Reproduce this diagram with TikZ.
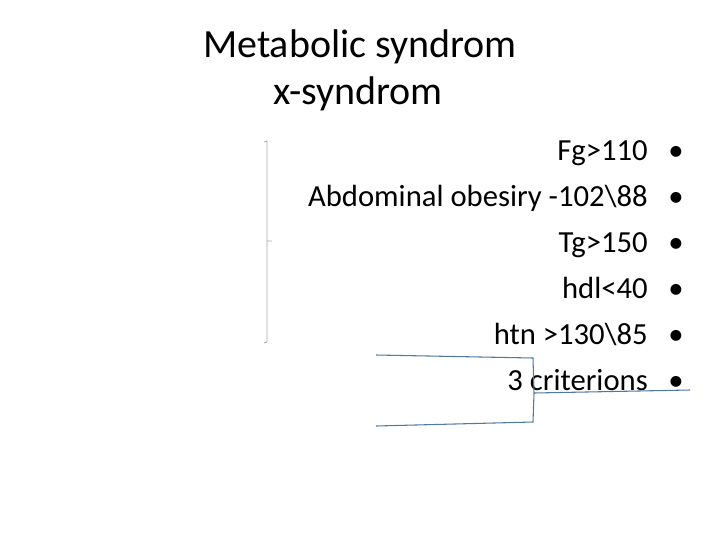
\documentclass[tikz,border=0pt]{standalone}
\usepackage{fontspec}
\setmainfont{Carlito}
\begin{document}
\begin{tikzpicture}[x=0.75pt,y=-0.75pt,
 title/.style={font=\fontsize{30}{36}\selectfont,anchor=base,inner sep=0},
 item/.style={font=\fontsize{23}{28}\selectfont,anchor=base east,inner sep=0},
 bul/.style={font=\fontsize{23}{28}\selectfont,anchor=base,inner sep=0},
 brk/.style={draw=gray!70,line width=0.6pt},
 brc/.style={draw={rgb,255:red,80;green,120;blue,160},line width=0.8pt}]
\useasboundingbox (0,0) rectangle (720,540);
\node[title] (t1) at (360,57) {Metabolic syndrom};
\node[title] (t2) at (358,104) {x-syndrom};
\foreach \t [count=\i] in {Fg>110,Abdominal obesiry -102\textbackslash 88,Tg>150,hdl<40,htn >130\textbackslash 85,3 criterions}{
 \node[item] (i\i) at (648,114+46*\i) {\t};
 \node[bul] (b\i) at (676,114+46*\i) {•};
}
\coordinate (a1) at (264,142); \coordinate (a2) at (267,141);
\coordinate (a3) at (267,241); \coordinate (a4) at (272,241);
\coordinate (a5) at (267,342); \coordinate (a6) at (264,343);
\draw[brk] (a1)--(a2)--(a5)--(a6) (a3)--(a4);
\coordinate (c1) at (376,355); \coordinate (c2) at (533,358);
\coordinate (c3) at (534,393); \coordinate (c4) at (690,390);
\coordinate (c5) at (533,422); \coordinate (c6) at (376,426);
\draw[brc] (c1)--(c2)--(c3)--(c5)--(c6) (c3)--(c4);
\end{tikzpicture}
\end{document}
